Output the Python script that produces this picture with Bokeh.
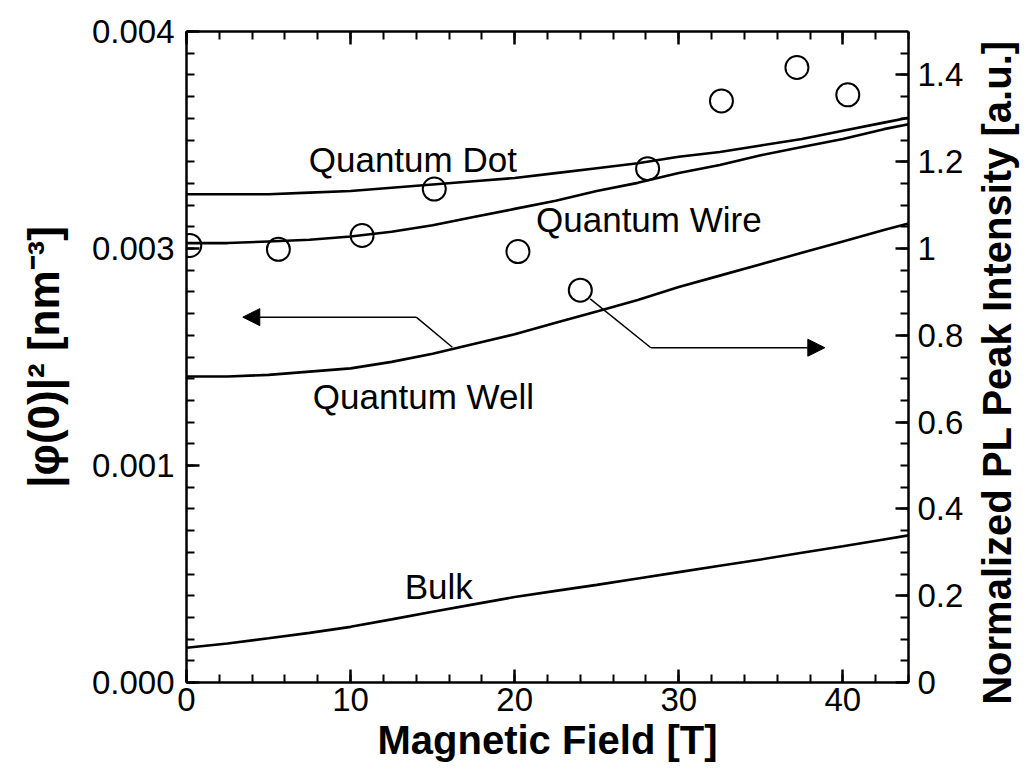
import math
from bokeh.plotting import figure
from bokeh.layouts import row, column
from bokeh.models import (Range1d, LinearAxis, FixedTicker, SingleIntervalTicker,
                          CustomJSTickFormatter, Arrow, NormalHead, CustomLabelingPolicy)
from bokeh.core.properties import value
from bokeh.embed import file_html
from bokeh.resources import INLINE

# ---- data ----
field_T = [0, 2.5, 5, 7.5, 10, 12.5, 15, 17.5, 20, 22.5, 25, 27.5, 30, 32.5, 35, 37.5, 40, 42.5, 44]
quantum_dot = [0.00300, 0.00300, 0.00300, 0.00301, 0.00302, 0.00304, 0.00306, 0.00308, 0.00310, 0.00313,
               0.00316, 0.00319, 0.00323, 0.00326, 0.00330, 0.00334, 0.00339, 0.00344, 0.00347]
quantum_wire = [0.00270, 0.00270, 0.00271, 0.00272, 0.00274, 0.00277, 0.00281, 0.00286, 0.00291, 0.00296,
                0.00302, 0.00307, 0.00313, 0.00318, 0.00324, 0.00329, 0.00334, 0.00340, 0.00343]
quantum_well = [0.00188, 0.00188, 0.00189, 0.00191, 0.00193, 0.00197, 0.00202, 0.00208, 0.00214, 0.00221,
                0.00228, 0.00235, 0.00243, 0.00250, 0.00257, 0.00264, 0.00271, 0.00278, 0.00282]
bulk = [0.000214, 0.000240, 0.000272, 0.000305, 0.000342, 0.000388, 0.000435, 0.000480, 0.000525, 0.000563,
        0.000600, 0.000639, 0.000678, 0.000717, 0.000756, 0.000797, 0.000837, 0.000879, 0.000904]

pl_field = [0.2, 5.6, 10.7, 15.1, 20.2, 24.0, 28.1, 32.6, 37.2, 40.3]
pl_intensity = [1.007, 0.998, 1.03, 1.137, 0.993, 0.904, 1.184, 1.34, 1.417, 1.354]

left_tick_labels = ["0.000", "0.001", "0.003", "0.004"]

curve_labels = ["Quantum Dot", "Quantum Wire", "Quantum Well", "Bulk"]
curve_label_x = [7.45, 21.3, 7.7, 13.3]
curve_label_y = [0.003212, 0.002845, 0.00176, 0.00059]

x_title = "Magnetic Field [T]"
left_title = "|\u03c6(0)|\u00b2 [nm\u207b\u00b3]"
right_title = "Normalized PL Peak Intensity [a.u.]"

# arrow annotations (data units of left axis)
left_arrow_x = [16.2, 14.0, 3.43]
left_arrow_y = [0.00206, 0.002245, 0.002245]
right_arrow_x = [24.6, 28.3, 38.9]
right_arrow_y = [0.002357, 0.002057, 0.002057]

FONT = "Liberation Sans"
MAIN_W, TITLE_W, H = 966, 54, 764

p = figure(width=MAIN_W, height=H, x_range=Range1d(0, 44), y_range=Range1d(0, 0.004),
           output_backend="svg", toolbar_location=None,
           x_axis_location=None, y_axis_location=None,
           min_border_left=186, min_border_right=56, min_border_top=28, min_border_bottom=81)
p.extra_y_ranges = {"pl": Range1d(0, 1.5)}
p.grid.visible = False
p.outline_line_color = None
p.background_fill_color = "white"
p.border_fill_color = "white"


def style(ax):
    ax.axis_line_width = 2.5
    ax.axis_line_color = "black"
    ax.major_tick_line_width = 2.5
    ax.minor_tick_line_width = 2
    ax.major_tick_line_color = "black"
    ax.minor_tick_line_color = "black"
    ax.major_tick_in = 13
    ax.major_tick_out = 0
    ax.minor_tick_in = 8
    ax.minor_tick_out = 0
    ax.major_label_text_font = FONT
    ax.major_label_text_font_size = "33px"
    ax.major_label_text_color = "black"
    ax.axis_label_text_font = FONT
    ax.axis_label_text_font_style = "bold"
    ax.axis_label_text_color = "black"


bottom = LinearAxis(ticker=SingleIntervalTicker(interval=10, num_minor_ticks=5), axis_label=x_title)
style(bottom)
bottom.major_label_standoff = 5
bottom.axis_label_standoff = 4
bottom.axis_label_text_font_size = "40px"
p.add_layout(bottom, "below")

top = LinearAxis(ticker=SingleIntervalTicker(interval=10, num_minor_ticks=5))
style(top)
top.major_label_policy = CustomLabelingPolicy(
    code="for (const i of Array.from(indices)) { indices.unset(i) }\nreturn indices")
p.add_layout(top, "above")

left = LinearAxis(ticker=FixedTicker(ticks=[0, 0.004 / 3, 0.008 / 3, 0.004],
                                     minor_ticks=[i * 0.004 / 30 for i in range(31)]),
                  formatter=CustomJSTickFormatter(args=dict(labels=left_tick_labels),
                                                  code="return labels[Math.round(tick * 750)];"),
                  axis_label=left_title)
style(left)
left.major_label_standoff = 12
left.axis_label_standoff = 21
left.axis_label_text_font_size = "44px"
p.add_layout(left, "left")

right = LinearAxis(y_range_name="pl",
                   ticker=SingleIntervalTicker(interval=0.2, num_minor_ticks=4),
                   formatter=CustomJSTickFormatter(code="return String(Math.round(tick * 10) / 10);"))
style(right)
right.major_label_standoff = 9
p.add_layout(right, "right")

# curves
for ys in (quantum_dot, quantum_wire, quantum_well, bulk):
    p.line(field_T, ys, line_color="black", line_width=2.6)

# PL points
p.scatter(pl_field, pl_intensity, y_range_name="pl", marker="circle", size=23,
          fill_color=None, line_color="black", line_width=2)

# curve labels
p.text(curve_label_x, curve_label_y, text=curve_labels, text_font=value(FONT),
       text_font_size="35px", text_color="black", text_align="left", text_baseline="middle")

# arrows
p.line(left_arrow_x[:2], left_arrow_y[:2], line_color="black", line_width=1.5)
p.add_layout(Arrow(end=NormalHead(size=17, fill_color="black", line_color="black", line_width=1),
                   x_start=left_arrow_x[1], y_start=left_arrow_y[1],
                   x_end=left_arrow_x[2], y_end=left_arrow_y[2],
                   line_color="black", line_width=1.5))
p.line(right_arrow_x[:2], right_arrow_y[:2], line_color="black", line_width=1.5)
p.add_layout(Arrow(end=NormalHead(size=17, fill_color="black", line_color="black", line_width=1),
                   x_start=right_arrow_x[1], y_start=right_arrow_y[1],
                   x_end=right_arrow_x[2], y_end=right_arrow_y[2],
                   line_color="black", line_width=1.5))

# right-hand axis title, reading bottom to top, in its own narrow strip
t = figure(width=TITLE_W, height=H, x_range=Range1d(0, TITLE_W), y_range=Range1d(0, H),
           output_backend="svg", toolbar_location=None,
           x_axis_location=None, y_axis_location=None, min_border=0)
t.grid.visible = False
t.outline_line_color = None
t.background_fill_color = "white"
t.border_fill_color = "white"
t.text(x=[30], y=[H - 372], text=[right_title], angle=math.pi / 2,
       text_font=value(FONT), text_font_style="bold", text_font_size="40px",
       text_color="black", text_align="center", text_baseline="middle")

layout = row(p, column(t), spacing=0)
open("out.html", "w").write(file_html(layout, INLINE))
